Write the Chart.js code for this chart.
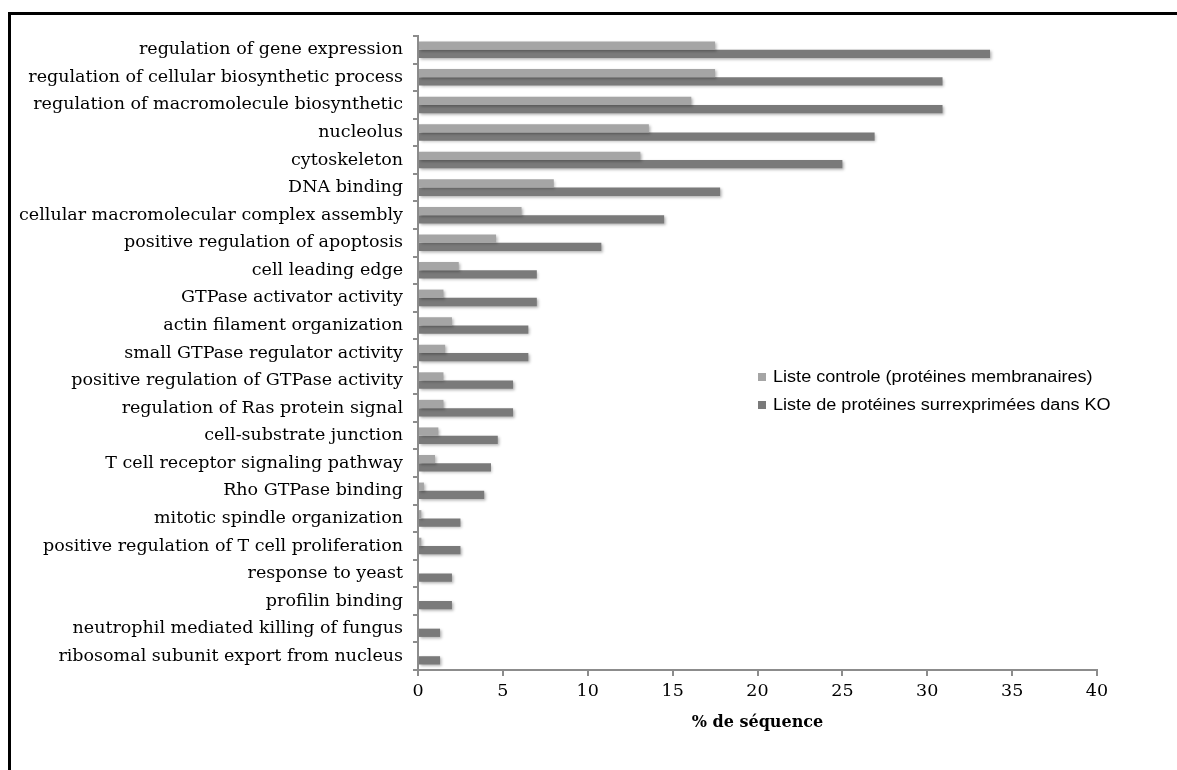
<!DOCTYPE html>
<html>
<head>
<meta charset="utf-8">
<script src="https://cdn.jsdelivr.net/npm/chart.js@4.4.1/dist/chart.umd.min.js"></script>
<style>
  html, body { margin: 0; padding: 0; background: #fff; overflow: hidden; }
  #wrap { position: relative; width: 1177px; height: 770px; }
  #frame { position: absolute; left: 8px; top: 12px; width: 1300px; height: 900px; border: 3px solid #000; box-sizing: border-box; }
  canvas { position: absolute; left: 0; top: 0; }
</style>
</head>
<body>
<div id="wrap">
  <div id="frame"></div>
  <canvas id="c" width="1177" height="770"></canvas>
</div>
<script>
const categories = [
  "regulation of gene expression",
  "regulation of cellular biosynthetic process",
  "regulation of macromolecule biosynthetic",
  "nucleolus",
  "cytoskeleton",
  "DNA binding",
  "cellular macromolecular complex assembly",
  "positive regulation of apoptosis",
  "cell leading edge",
  "GTPase activator activity",
  "actin filament organization",
  "small GTPase regulator activity",
  "positive regulation of GTPase activity",
  "regulation of Ras protein signal",
  "cell-substrate junction",
  "T cell receptor signaling pathway",
  "Rho GTPase binding",
  "mitotic spindle organization",
  "positive regulation of T cell proliferation",
  "response to yeast",
  "profilin binding",
  "neutrophil mediated killing of fungus",
  "ribosomal subunit export from nucleus"
];
const controlValues = [17.5, 17.5, 16.1, 13.6, 13.1, 8.0, 6.1, 4.6, 2.4, 1.5, 2.0, 1.6, 1.5, 1.5, 1.2, 1.0, 0.35, 0.2, 0.2, 0, 0, 0, 0];
const koValues = [33.7, 30.9, 30.9, 26.9, 25.0, 17.8, 14.5, 10.8, 7.0, 7.0, 6.5, 6.5, 5.6, 5.6, 4.7, 4.3, 3.9, 2.5, 2.5, 2.0, 2.0, 1.3, 1.3];
const seriesNames = ["Liste controle (protéines membranaires)", "Liste de protéines surrexprimées dans KO"];
const xTicks = [0, 5, 10, 15, 20, 25, 30, 35, 40];
const xTitle = "% de séquence";

const SERIF = "'DejaVu Serif', 'Liberation Serif', serif";
const SANS = "'Liberation Sans', Arial, sans-serif";

const shadowPlugin = {
  id: 'shadow',
  beforeDatasetsDraw(chart) {
    const ctx = chart.ctx;
    ctx.save();
    ctx.shadowColor = 'rgba(0,0,0,0.30)';
    ctx.shadowBlur = 3;
    ctx.shadowOffsetX = 1.5;
    ctx.shadowOffsetY = 1.5;
  },
  afterDatasetsDraw(chart) {
    chart.ctx.restore();
  }
};

const legendPlugin = {
  id: 'customLegend',
  afterDraw(chart) {
    const ctx = chart.ctx;
    const ys = [377, 405];
    chart.data.datasets.forEach((ds, i) => {
      ctx.save();
      ctx.fillStyle = ds.backgroundColor;
      ctx.fillRect(758, ys[i] - 4, 8, 8);
      ctx.translate(773, ys[i] + 1);
      ctx.scale(1.13, 1);
      ctx.font = "16px " + SANS;
      ctx.textBaseline = 'middle';
      ctx.textAlign = 'left';
      ctx.fillStyle = '#000';
      ctx.fillText(ds.label, 0, 0);
      ctx.restore();
    });
  }
};

new Chart(document.getElementById('c'), {
  type: 'bar',
  data: {
    labels: categories,
    datasets: [
      { label: seriesNames[0], data: controlValues, backgroundColor: '#a5a5a5', borderWidth: 0 },
      { label: seriesNames[1], data: koValues, backgroundColor: '#7a7a7a', borderWidth: 0 }
    ]
  },
  options: {
    indexAxis: 'y',
    responsive: false,
    animation: false,
    devicePixelRatio: 1,
    layout: { padding: { left: 0, top: 36, right: 80, bottom: 0 } },
    datasets: { bar: { categoryPercentage: 0.6, barPercentage: 1.0 } },
    plugins: {
      legend: { display: false },
      tooltip: { enabled: false }
    },
    scales: {
      x: {
        type: 'linear',
        min: xTicks[0],
        max: xTicks[xTicks.length - 1],
        afterFit(scale) { scale.height = 100; },
        afterBuildTicks(scale) { scale.ticks = xTicks.map(v => ({ value: v })); },
        border: { display: true, color: '#8c8c8c', width: 2 },
        grid: { drawOnChartArea: false, drawTicks: true, tickLength: 6, color: '#8c8c8c', lineWidth: 2 },
        ticks: { color: '#000', font: { family: SERIF, size: 17.5 }, padding: 5 },
        title: { display: true, text: xTitle, color: '#000', font: { family: SERIF, size: 16, weight: 'bold' }, padding: { top: 0, bottom: 38 } }
      },
      y: {
        afterFit(scale) { scale.width = 418; },
        border: { display: true, color: '#8c8c8c', width: 2 },
        grid: { drawOnChartArea: false, drawTicks: true, tickLength: 5, color: '#8c8c8c', lineWidth: 2, offset: true },
        ticks: { color: '#000', font: { family: SERIF, size: 17.5 }, padding: 10, autoSkip: false }
      }
    }
  },
  plugins: [shadowPlugin, legendPlugin]
});
</script>
</body>
</html>
